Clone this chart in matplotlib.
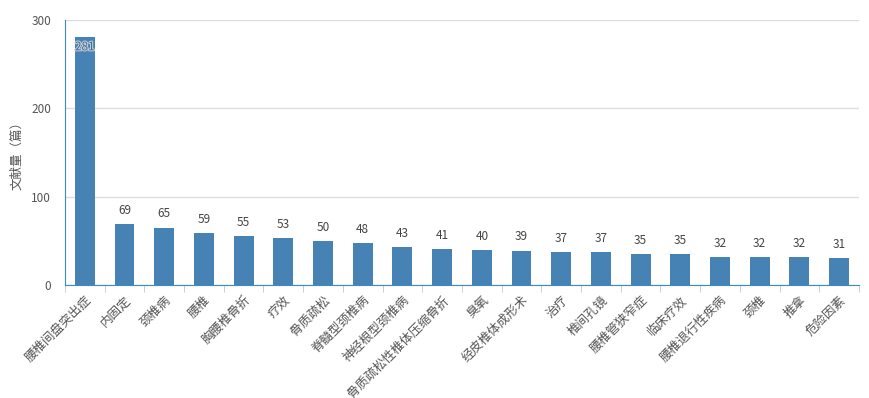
import matplotlib
matplotlib.use("Agg")
import matplotlib.pyplot as plt
import matplotlib.patheffects as pe
import numpy as np

plt.rcParams['font.family'] = ['Noto Sans CJK SC', 'DejaVu Sans']

# 关键词及文献量
keywords = ['腰椎间盘突出症', '内固定', '颈椎病', '腰椎', '胸腰椎骨折', '疗效', '骨质疏松',
            '脊髓型颈椎病', '神经根型颈椎病', '骨质疏松性椎体压缩骨折', '臭氧', '经皮椎体成形术',
            '治疗', '椎间孔镜', '腰椎管狭窄症', '临床疗效', '腰椎退行性疾病', '颈椎', '推拿', '危险因素']
counts = [281, 69, 65, 59, 55, 53, 50, 48, 43, 41, 40, 39, 37, 37, 35, 35, 32, 32, 32, 31]
yticks = [0, 100, 200, 300]

fig = plt.figure(figsize=(8.7, 3.98), dpi=100)
ax = fig.add_axes([0.0747, 0.284, 0.9126, 0.6657])

x = np.arange(len(keywords))
ax.bar(x, counts, width=0.5, color='#4682b4', zorder=3)

for i, v in enumerate(counts):
    if v > 250:
        # 最高的柱子：数值写在柱内顶部
        t = ax.text(i, v - 4, str(v), ha='center', va='top', fontsize=8.5, color='#5a6470', zorder=4)
        t.set_path_effects([pe.withStroke(linewidth=1.5, foreground='#b8d0e6')])
    else:
        ax.text(i, v + 8, str(v), ha='center', va='bottom', fontsize=8.5, color='#444444', zorder=4)

ax.set_xlim(-0.5, len(keywords) - 0.5)
ax.set_ylim(0, 300)
ax.set_yticks(yticks)
ax.yaxis.grid(True, color='#dddddd', linewidth=1, zorder=0)
ax.tick_params(axis='y', length=0, labelsize=8.5, labelcolor='#555555', pad=10)

ax.set_xticks(np.arange(len(keywords) + 1) - 0.5, minor=True)
ax.set_xticks(x)
ax.set_xticklabels(keywords, rotation=45, ha='right', rotation_mode='anchor',
                   fontsize=9, color='#555555')
ax.tick_params(axis='x', which='major', length=0, pad=6)
ax.tick_params(axis='x', which='minor', length=5, color='#b8c8d8')

for s in ['top', 'right']:
    ax.spines[s].set_visible(False)
ax.spines['left'].set_color('#3a8ac4')
ax.spines['bottom'].set_color('#3a8ac4')

ax.set_ylabel('文献量（篇）', fontsize=9, color='#555555', labelpad=6)

fig.savefig('out.png', dpi=100)
